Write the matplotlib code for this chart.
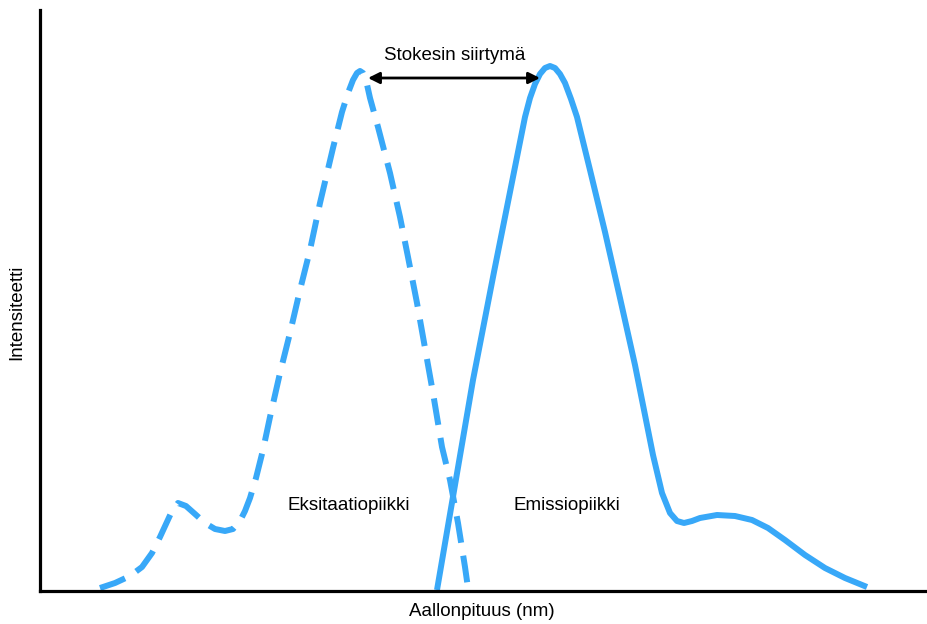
import matplotlib
matplotlib.use("Agg")
import matplotlib.pyplot as plt

plt.rcParams["font.family"] = ["Liberation Sans", "DejaVu Sans"]

# excitation spectrum (dashed), arbitrary units
exc_x = [60, 75, 90, 102, 112, 120, 126, 132, 138, 146, 155, 165, 175, 185, 193,
         200, 205, 210, 216, 223, 230, 240, 250, 260, 270, 280, 293, 302, 308,
         313, 317, 320, 323, 326, 330, 338, 350, 360, 368, 377, 385, 393, 402,
         410, 418, 425, 428]
exc_y = [3, 8, 15, 24, 38, 54, 67, 80, 88, 85, 77, 68, 62, 60, 62, 70, 80, 93,
         113, 141, 174, 218, 258, 301, 341, 388, 443, 479, 498, 511, 518, 520,
         518, 511, 493, 464, 418, 374, 334, 288, 243, 198, 144, 111, 68, 24, 3]

# emission spectrum (solid)
emi_x = [397, 415, 433, 454, 475, 485, 490, 495, 500, 505, 510, 515, 520, 525,
         531, 537, 550, 565, 580, 595, 605, 613, 622, 630, 637, 644, 652, 660,
         677, 695, 712, 728, 745, 765, 785, 805, 827]
emi_y = [1, 106, 211, 319, 424, 474, 493, 507, 517, 523, 525, 523, 517, 508,
         492, 474, 421, 359, 293, 226, 176, 136, 98, 78, 70, 68, 70, 73, 76, 75,
         71, 63, 51, 36, 23, 13, 4]

fig = plt.figure(figsize=(9.27, 6.24), dpi=100)
ax = fig.add_axes([40 / 927, 33 / 624, 885 / 927, 581 / 624])

blue = "#38a8f8"
ax.plot(exc_x, exc_y, color=blue, lw=4.3, dashes=(4.5, 2.2),
        dash_capstyle="butt", dash_joinstyle="round")
ax.plot(emi_x, emi_y, color=blue, lw=4.3, solid_capstyle="butt",
        solid_joinstyle="round")

ax.set_xlim(0, 885)
ax.set_ylim(0, 581)

# Stokes shift arrow between the two maxima
ax.annotate("", xy=(328, 513), xytext=(500, 513),
            arrowprops=dict(arrowstyle="<|-|>", color="black", lw=2,
                            mutation_scale=17, shrinkA=0, shrinkB=0))
ax.text(415, 536, "Stokesin siirtymä", ha="center", va="center", fontsize=13.5)
ax.text(309, 86, "Eksitaatiopiikki", ha="center", va="center", fontsize=13.5)
ax.text(527, 86, "Emissiopiikki", ha="center", va="center", fontsize=13.5)

for side in ["top", "right"]:
    ax.spines[side].set_visible(False)
for side in ["left", "bottom"]:
    ax.spines[side].set_linewidth(2.3)
ax.set_xticks([])
ax.set_yticks([])

fig.text(482 / 927, 1 - 612 / 624, "Aallonpituus (nm)", ha="center",
         va="center", fontsize=13.5)
fig.text(17 / 927, 1 - 312 / 624, "Intensiteetti", ha="center", va="center",
         rotation=90, fontsize=13.5)

fig.savefig("out.png", dpi=100)
